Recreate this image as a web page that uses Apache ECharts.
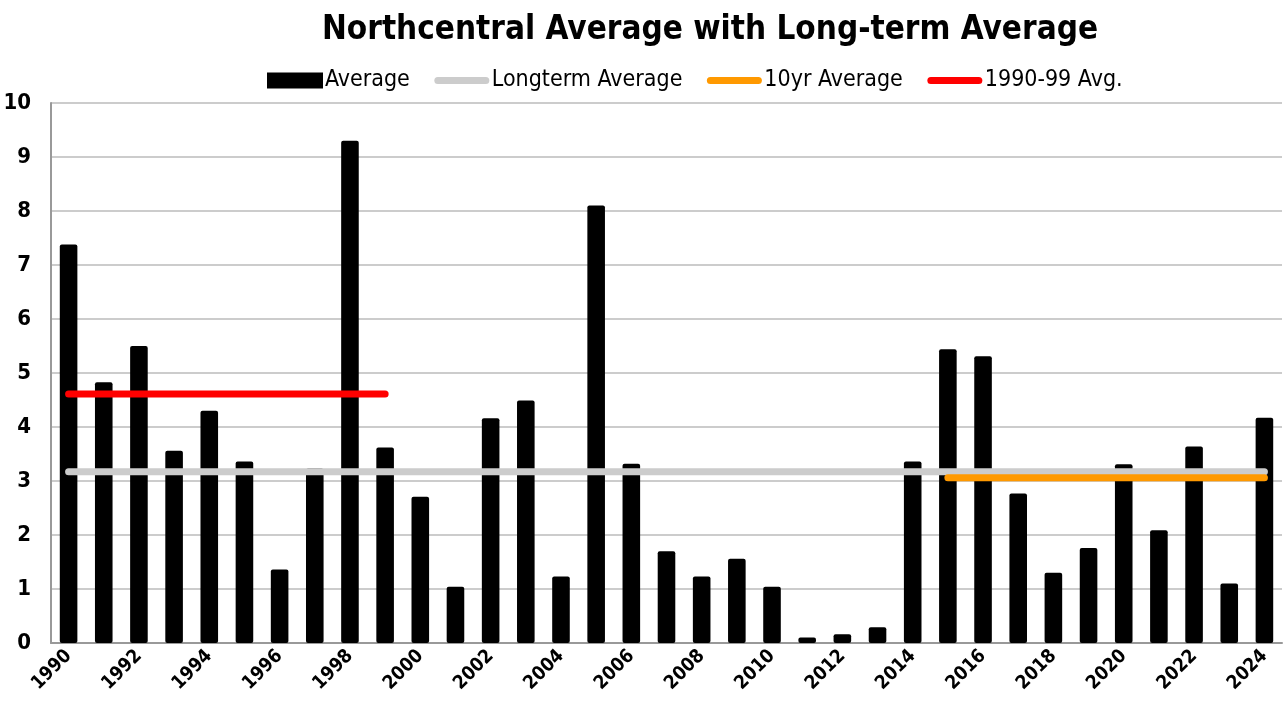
<!DOCTYPE html>
<html>
<head>
<meta charset="utf-8">
<script src="https://cdn.jsdelivr.net/npm/echarts@6/dist/echarts.min.js"></script>
<style>html,body{margin:0;padding:0;background:#fff}#c{width:1284px;height:706px}</style>
</head>
<body>
<div id="c"></div>
<script>
const years = ['1990','1991','1992','1993','1994','1995','1996','1997','1998','1999',
  '2000','2001','2002','2003','2004','2005','2006','2007','2008','2009',
  '2010','2011','2012','2013','2014','2015','2016','2017','2018','2019',
  '2020','2021','2022','2023','2024'];
const averageValues = [7.38,4.83,5.5,3.56,4.3,3.36,1.36,3.23,9.3,3.62,
  2.71,1.04,4.16,4.49,1.23,8.1,3.32,1.7,1.23,1.56,
  1.04,0.1,0.16,0.29,3.36,5.44,5.31,2.77,1.3,1.76,
  3.31,2.09,3.64,1.1,4.17];
const longtermAvg = 3.17;
const tenYrAvg = 3.06;
const nineties = 4.61;
const yTicks = [0,1,2,3,4,5,6,7,8,9,10];

const FONT = '"DejaVu Sans Condensed","Liberation Sans Narrow",sans-serif';
const LINE_ICON = 'path://M0,0 M56,16 M4,4.5 L52,4.5 A3.5,3.5 0 0 1 52,11.5 L4,11.5 A3.5,3.5 0 0 1 4,4.5 Z';
const chart = echarts.init(document.getElementById('c'));
chart.setOption({
  animation: false,
  backgroundColor: '#fff',
  title: {
    text: 'Northcentral Average with Long-term Average',
    left: 317,
    top: 9,
    textStyle: {fontFamily: FONT, fontWeight: 'bold', fontSize: 33, color: '#000'}
  },
  legend: {
    top: 64,
    left: 262,
    itemGap: 24,
    itemWidth: 56,
    itemHeight: 16,
    textStyle: {fontFamily: FONT, fontSize: 23, color: '#000', padding: [0,0,0,-3]},
    data: [
      {name: 'Average', icon: 'rect'},
      {name: 'Longterm Average', icon: LINE_ICON},
      {name: '10yr Average', icon: LINE_ICON},
      {name: '1990-99 Avg.', icon: LINE_ICON}
    ]
  },
  grid: {left: 51, right: 2, top: 103, bottom: 63},
  xAxis: {
    type: 'category',
    data: years,
    axisLine: {lineStyle: {color: '#999', width: 2}},
    axisTick: {show: false},
    axisLabel: {interval: 1, rotate: 45, fontFamily: FONT, fontWeight: 'bold', fontSize: 19, color: '#000', margin: 10}
  },
  yAxis: {
    type: 'value',
    min: yTicks[0],
    max: yTicks[yTicks.length-1],
    interval: 1,
    axisLine: {show: true, lineStyle: {color: '#999', width: 2}},
    axisTick: {show: false},
    splitLine: {lineStyle: {color: '#bbb', width: 1.5}},
    axisLabel: {fontFamily: FONT, fontWeight: 'bold', fontSize: 22, color: '#000', margin: 20}
  },
  series: [
    {
      name: 'Average', type: 'bar', data: averageValues, barWidth: '50%',
      itemStyle: {color: '#000', borderRadius: 2}, z: 2
    },
    {
      name: 'Longterm Average', type: 'line', symbol: 'none',
      data: [[years[0], longtermAvg], [years[years.length-1], longtermAvg]],
      lineStyle: {color: '#cccccc', width: 7, cap: 'round'}, itemStyle: {color: '#cccccc'}, z: 3
    },
    {
      name: '10yr Average', type: 'line', symbol: 'none',
      data: [[years[25], tenYrAvg], [years[34], tenYrAvg]],
      lineStyle: {color: '#ff9900', width: 7, cap: 'round'}, itemStyle: {color: '#ff9900'}, z: 4
    },
    {
      name: '1990-99 Avg.', type: 'line', symbol: 'none',
      data: [[years[0], nineties], [years[9], nineties]],
      lineStyle: {color: '#ff0000', width: 7, cap: 'round'}, itemStyle: {color: '#ff0000'}, z: 4
    }
  ]
});
</script>
</body>
</html>
